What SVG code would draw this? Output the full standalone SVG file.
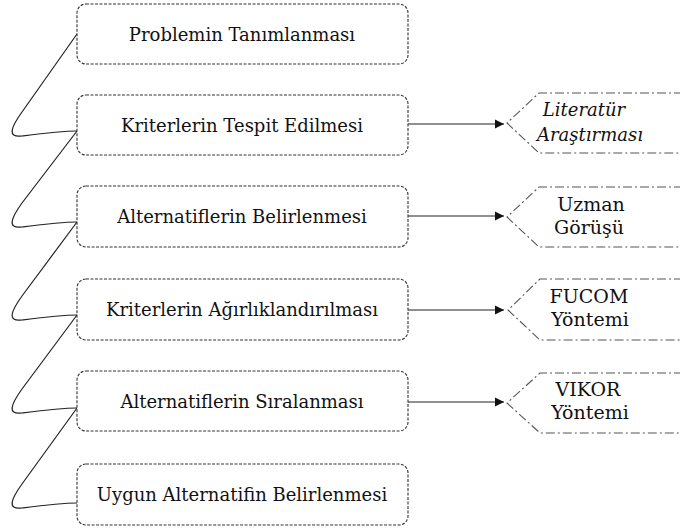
<svg xmlns="http://www.w3.org/2000/svg" width="680" height="529" viewBox="0 0 680 529">
<style>
.box{fill:#fff;stroke:#333;stroke-width:1.1;stroke-dasharray:3 1.5}
.pent{fill:none;stroke:#555;stroke-width:1.1;stroke-dasharray:9 3 2 3}
.conn{fill:none;stroke:#222;stroke-width:1.2}
.arr{fill:none;stroke:#222;stroke-width:1.2;marker-end:url(#ah)}
.pt{font-size:19px}
.it{font-size:18px;font-style:italic}
</style>
<defs>
<marker id="ah" markerWidth="10" markerHeight="10" refX="9" refY="5" orient="auto" markerUnits="userSpaceOnUse">
<path d="M0,0.5 L9,5 L0,9.5 Z" fill="#111"/>
</marker>
</defs>
<rect width="680" height="529" fill="#fff"/>
<g id="connectors">
<path class="conn" d="M77,34 L22,112 C12,126 6,138 22,136 C45,133 60,131 77,131"/>
<path class="conn" d="M77,131 L22,203 C12,217 6,229 22,227 C45,224 60,222 77,222"/>
<path class="conn" d="M77,222 L22,296 C12,310 6,322 22,320 C45,317 60,315 77,315"/>
<path class="conn" d="M77,315 L22,389 C12,403 6,415 22,413 C45,410 60,408 77,408"/>
<path class="conn" d="M77,408 L22,484 C12,498 6,510 22,508 C45,505 60,503 77,503"/>
<path class="arr" d="M408,124 L504,124"/>
<path class="arr" d="M408,216 L504,216"/>
<path class="arr" d="M408,310 L504,310"/>
<path class="arr" d="M408,402 L504,402"/>
</g>
<g font-family="DejaVu Serif, Liberation Serif, serif" font-size="18" fill="#111" text-anchor="middle">
<g id="n1"><rect class="box" x="77" y="4" width="331" height="60" rx="9"/><text x="242" y="41">Problemin Tanımlanması</text></g>
<g id="n2"><rect class="box" x="77" y="95" width="331" height="60" rx="9"/><text x="242" y="132">Kriterlerin Tespit Edilmesi</text></g>
<g id="n3"><rect class="box" x="77" y="186" width="331" height="61" rx="9"/><text x="242" y="223">Alternatiflerin Belirlenmesi</text></g>
<g id="n4"><rect class="box" x="77" y="279" width="331" height="61" rx="9"/><text x="242" y="316">Kriterlerin Ağırlıklandırılması</text></g>
<g id="n5"><rect class="box" x="77" y="371" width="331" height="60" rx="9"/><text x="242" y="408">Alternatiflerin Sıralanması</text></g>
<g id="n6"><rect class="box" x="77" y="464" width="331" height="61" rx="9"/><text x="242" y="501">Uygun Alternatifin Belirlenmesi</text></g>
<g id="p1"><path class="pent" d="M700,93 L539,93 L507,123 L539,153 L700,153"/><text class="it" x="584" y="116">Literatür</text><text class="it" x="590" y="141">Araştırması</text></g>
<g id="p2"><path class="pent" d="M700,187 L539,187 L507,217 L539,247 L700,247"/><text class="pt" x="591" y="211">Uzman</text><text class="pt" x="589" y="234">Görüşü</text></g>
<g id="p3"><path class="pent" d="M700,279 L540,279 L508,310 L540,340 L700,340"/><text class="pt" x="589" y="303">FUCOM</text><text class="pt" x="590" y="326">Yöntemi</text></g>
<g id="p4"><path class="pent" d="M700,373 L540,373 L507,403 L540,433 L700,433"/><text class="pt" x="588" y="396">VIKOR</text><text class="pt" x="590" y="419">Yöntemi</text></g>
</g>
</svg>
